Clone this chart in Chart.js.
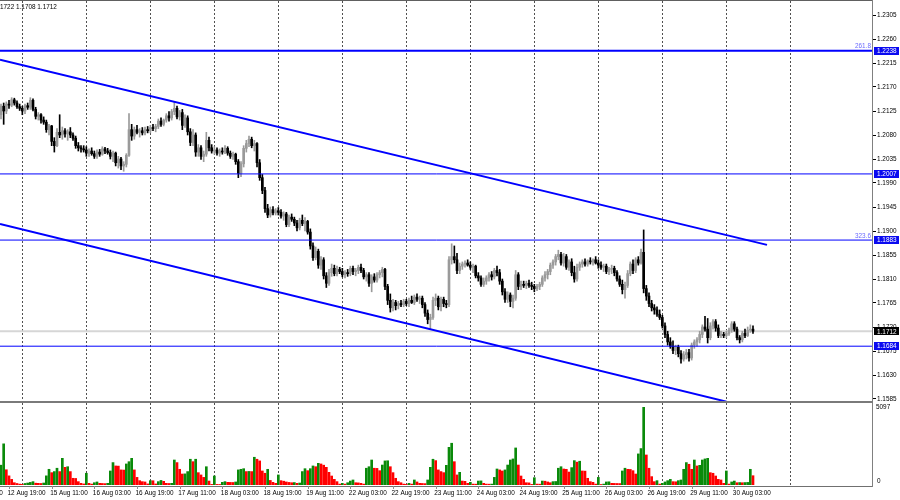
<!DOCTYPE html>
<html><head><meta charset="utf-8">
<script src="https://cdn.jsdelivr.net/npm/chart.js@4.4.1/dist/chart.umd.min.js"></script>
<style>
html,body{margin:0;padding:0;background:#fff;overflow:hidden}
#wrap{position:relative;width:900px;height:500px;background:#fff}
#c1{position:absolute;left:0;top:0}
#c2{position:absolute;left:0;top:403px}
</style></head><body>
<div id="wrap"><canvas id="c1" width="900" height="403"></canvas><canvas id="c2" width="900" height="97"></canvas></div>
<script>
// ---- H1 bars, index 0 = 12 Aug 16:00, last = 30 Aug 10:00 ----
const open = [
 1.2118,1.2134,1.2125,1.2138,1.2136,1.2146,1.2140,1.2133,
 1.2130,1.2125,1.2135,1.2132,1.2145,1.2128,1.2115,1.2118,1.2108,1.2104,1.2090,1.2097,
 1.2068,1.2060,1.2085,1.2080,1.2088,1.2082,1.2086,1.2080,1.2074,1.2060,1.2056,1.2054,
 1.2052,1.2046,1.2050,1.2045,1.2040,1.2048,1.2044,1.2054,1.2050,1.2047,1.2040,1.2046,
 1.2028,1.2035,1.2022,1.2025,1.2042,1.2090,1.2078,1.2090,1.2085,1.2088,1.2084,1.2090,
 1.2088,1.2094,1.2092,1.2096,1.2106,1.2100,1.2108,1.2116,1.2112,1.2124,1.2130,1.2114,
 1.2122,1.2098,1.2112,1.2086,1.2066,1.2080,1.2048,1.2056,1.2040,1.2044,1.2070,1.2056,
 1.2050,1.2052,1.2046,1.2050,1.2048,1.2055,1.2046,1.2040,1.2044,1.2030,1.2008,1.2026,
 1.2055,1.2064,1.2072,1.2060,1.2064,1.2028,1.2000,1.1976,1.1942,1.1930,1.1940,1.1934,
 1.1938,1.1935,1.1928,1.1932,1.1912,1.1926,1.1922,1.1915,1.1906,1.1920,1.1914,1.1918,
 1.1898,1.1872,1.1850,1.1862,1.1836,1.1846,1.1816,1.1802,1.1822,1.1830,1.1820,1.1828,
 1.1824,1.1818,1.1822,1.1820,1.1830,1.1824,1.1826,1.1832,1.1826,1.1814,1.1818,1.1802,
 1.1814,1.1808,1.1818,1.1822,1.1828,1.1796,1.1770,1.1756,1.1766,1.1760,1.1764,1.1762,
 1.1768,1.1764,1.1770,1.1766,1.1776,1.1772,1.1774,1.1762,1.1746,1.1734,1.1738,1.1770,
 1.1774,1.1758,1.1772,1.1764,1.1762,1.1846,1.1852,1.1846,1.1826,1.1834,1.1838,1.1840,
 1.1836,1.1832,1.1834,1.1816,1.1812,1.1800,1.1806,1.1812,1.1818,1.1814,1.1826,1.1822,
 1.1806,1.1786,1.1772,1.1780,1.1768,1.1774,1.1818,1.1796,1.1800,1.1798,1.1802,1.1798,
 1.1796,1.1792,1.1796,1.1800,1.1812,1.1818,1.1824,1.1836,1.1842,1.1852,1.1856,1.1840,
 1.1852,1.1832,1.1842,1.1822,1.1810,1.1832,1.1838,1.1842,1.1838,1.1844,1.1842,1.1846,
 1.1840,1.1836,1.1832,1.1834,1.1824,1.1828,1.1830,1.1822,1.1810,1.1800,1.1790,1.1798,
 1.1820,1.1838,1.1826,1.1846,1.1840,1.1860,1.1792,1.1778,1.1764,1.1756,1.1752,1.1744,
 1.1738,1.1722,1.1706,1.1692,1.1684,1.1676,1.1682,1.1670,1.1660,1.1668,1.1672,1.1662,
 1.1686,1.1692,1.1696,1.1706,1.1720,1.1716,1.1700,1.1722,1.1730,1.1718,1.1704,1.1706,
 1.1704,1.1708,1.1714,1.1726,1.1716,1.1700,1.1696,1.1708,1.1704,1.1714,1.1716
];
const high = [
 1.2138,1.2140,1.2142,1.2145,1.2150,1.2149,1.2144,1.2138,
 1.2134,1.2138,1.2140,1.2150,1.2148,1.2132,1.2122,1.2120,1.2114,1.2108,1.2100,1.2098,
 1.2075,1.2092,1.2118,1.2095,1.2092,1.2090,1.2094,1.2084,1.2078,1.2066,1.2060,1.2060,
 1.2058,1.2054,1.2056,1.2050,1.2052,1.2053,1.2058,1.2057,1.2055,1.2052,1.2050,1.2048,
 1.2040,1.2038,1.2030,1.2045,1.2120,1.2100,1.2095,1.2098,1.2092,1.2094,1.2095,1.2096,
 1.2098,1.2100,1.2100,1.2110,1.2112,1.2110,1.2120,1.2124,1.2128,1.2142,1.2134,1.2126,
 1.2128,1.2118,1.2116,1.2092,1.2090,1.2084,1.2062,1.2060,1.2050,1.2085,1.2076,1.2062,
 1.2058,1.2056,1.2054,1.2056,1.2060,1.2058,1.2050,1.2048,1.2046,1.2034,1.2030,1.2060,
 1.2070,1.2078,1.2076,1.2070,1.2066,1.2034,1.2006,1.1982,1.1950,1.1945,1.1946,1.1942,
 1.1944,1.1940,1.1936,1.1935,1.1930,1.1932,1.1926,1.1920,1.1924,1.1930,1.1925,1.1920,
 1.1904,1.1878,1.1870,1.1866,1.1852,1.1850,1.1822,1.1828,1.1838,1.1836,1.1834,1.1832,
 1.1830,1.1826,1.1828,1.1834,1.1834,1.1830,1.1836,1.1838,1.1830,1.1822,1.1822,1.1818,
 1.1820,1.1822,1.1826,1.1832,1.1830,1.1800,1.1782,1.1772,1.1770,1.1768,1.1770,1.1772,
 1.1772,1.1774,1.1778,1.1780,1.1782,1.1778,1.1778,1.1766,1.1752,1.1744,1.1776,1.1782,
 1.1778,1.1776,1.1776,1.1770,1.1852,1.1876,1.1872,1.1858,1.1840,1.1842,1.1844,1.1846,
 1.1842,1.1838,1.1836,1.1822,1.1816,1.1812,1.1816,1.1822,1.1824,1.1830,1.1834,1.1828,
 1.1810,1.1792,1.1786,1.1784,1.1780,1.1826,1.1822,1.1806,1.1806,1.1806,1.1808,1.1804,
 1.1800,1.1800,1.1804,1.1816,1.1824,1.1828,1.1840,1.1846,1.1856,1.1864,1.1860,1.1858,
 1.1856,1.1846,1.1848,1.1834,1.1838,1.1842,1.1846,1.1848,1.1846,1.1850,1.1848,1.1852,
 1.1846,1.1842,1.1838,1.1838,1.1832,1.1836,1.1834,1.1826,1.1816,1.1808,1.1804,1.1826,
 1.1842,1.1846,1.1850,1.1852,1.1866,1.1902,1.1798,1.1784,1.1770,1.1762,1.1758,1.1752,
 1.1742,1.1728,1.1712,1.1700,1.1694,1.1686,1.1686,1.1676,1.1674,1.1678,1.1678,1.1690,
 1.1696,1.1700,1.1712,1.1724,1.1740,1.1736,1.1728,1.1734,1.1734,1.1724,1.1712,1.1710,
 1.1712,1.1718,1.1730,1.1730,1.1720,1.1704,1.1712,1.1716,1.1720,1.1724,1.1722
];
const low = [
 1.2110,1.2100,1.2120,1.2130,1.2133,1.2136,1.2130,1.2126,
 1.2118,1.2120,1.2128,1.2128,1.2125,1.2110,1.2108,1.2102,1.2100,1.2085,1.2080,1.2060,
 1.2048,1.2058,1.2075,1.2072,1.2076,1.2070,1.2075,1.2070,1.2055,1.2050,1.2048,1.2048,
 1.2040,1.2040,1.2042,1.2036,1.2036,1.2040,1.2042,1.2045,1.2044,1.2035,1.2030,1.2022,
 1.2018,1.2015,1.2012,1.2020,1.2040,1.2070,1.2072,1.2082,1.2076,1.2080,1.2080,1.2084,
 1.2084,1.2088,1.2086,1.2092,1.2096,1.2097,1.2104,1.2106,1.2108,1.2118,1.2110,1.2108,
 1.2090,1.2094,1.2080,1.2060,1.2060,1.2040,1.2040,1.2034,1.2030,1.2040,1.2050,1.2046,
 1.2044,1.2042,1.2040,1.2044,1.2045,1.2042,1.2036,1.2034,1.2025,1.2000,1.2002,1.2020,
 1.2048,1.2058,1.2056,1.2050,1.2020,1.1995,1.1970,1.1935,1.1925,1.1926,1.1930,1.1930,
 1.1930,1.1924,1.1920,1.1908,1.1908,1.1918,1.1910,1.1900,1.1902,1.1910,1.1900,1.1894,
 1.1866,1.1845,1.1846,1.1830,1.1828,1.1810,1.1794,1.1798,1.1815,1.1816,1.1816,1.1820,
 1.1814,1.1812,1.1815,1.1816,1.1818,1.1816,1.1820,1.1822,1.1810,1.1806,1.1796,1.1786,
 1.1804,1.1804,1.1812,1.1814,1.1790,1.1762,1.1748,1.1750,1.1752,1.1754,1.1758,1.1758,
 1.1760,1.1758,1.1764,1.1762,1.1768,1.1764,1.1756,1.1740,1.1726,1.1716,1.1734,1.1760,
 1.1752,1.1750,1.1758,1.1756,1.1758,1.1838,1.1840,1.1820,1.1820,1.1828,1.1832,1.1834,
 1.1828,1.1822,1.1812,1.1806,1.1796,1.1796,1.1800,1.1806,1.1808,1.1810,1.1816,1.1800,
 1.1780,1.1766,1.1766,1.1758,1.1756,1.1770,1.1790,1.1790,1.1794,1.1792,1.1794,1.1790,
 1.1786,1.1788,1.1790,1.1796,1.1806,1.1810,1.1818,1.1830,1.1836,1.1846,1.1836,1.1834,
 1.1828,1.1826,1.1816,1.1804,1.1806,1.1826,1.1832,1.1834,1.1834,1.1838,1.1836,1.1838,
 1.1830,1.1828,1.1824,1.1820,1.1818,1.1820,1.1816,1.1806,1.1796,1.1782,1.1774,1.1794,
 1.1816,1.1820,1.1822,1.1836,1.1838,1.1784,1.1770,1.1758,1.1750,1.1744,1.1740,1.1734,
 1.1718,1.1700,1.1686,1.1680,1.1670,1.1668,1.1664,1.1652,1.1656,1.1660,1.1656,1.1658,
 1.1680,1.1684,1.1690,1.1700,1.1712,1.1690,1.1696,1.1716,1.1712,1.1700,1.1700,1.1700,
 1.1700,1.1704,1.1710,1.1712,1.1696,1.1690,1.1692,1.1700,1.1702,1.1710,1.1708
];
const close = [
 1.2134,1.2125,1.2138,1.2136,1.2146,1.2140,1.2133,1.2130,
 1.2125,1.2135,1.2132,1.2145,1.2128,1.2115,1.2118,1.2108,1.2104,1.2090,1.2097,1.2068,
 1.2060,1.2085,1.2080,1.2088,1.2082,1.2086,1.2080,1.2074,1.2060,1.2056,1.2054,1.2052,
 1.2046,1.2050,1.2045,1.2040,1.2048,1.2044,1.2054,1.2050,1.2047,1.2040,1.2046,1.2028,
 1.2035,1.2022,1.2025,1.2042,1.2090,1.2078,1.2090,1.2085,1.2088,1.2084,1.2090,1.2088,
 1.2094,1.2092,1.2096,1.2106,1.2100,1.2108,1.2116,1.2112,1.2124,1.2130,1.2114,1.2122,
 1.2098,1.2112,1.2086,1.2066,1.2080,1.2048,1.2056,1.2040,1.2044,1.2070,1.2056,1.2050,
 1.2052,1.2046,1.2050,1.2048,1.2055,1.2046,1.2040,1.2044,1.2030,1.2008,1.2026,1.2055,
 1.2064,1.2072,1.2060,1.2064,1.2028,1.2000,1.1976,1.1942,1.1930,1.1940,1.1934,1.1938,
 1.1935,1.1928,1.1932,1.1912,1.1926,1.1922,1.1915,1.1906,1.1920,1.1914,1.1918,1.1898,
 1.1872,1.1850,1.1862,1.1836,1.1846,1.1816,1.1802,1.1822,1.1830,1.1820,1.1828,1.1824,
 1.1818,1.1822,1.1820,1.1830,1.1824,1.1826,1.1832,1.1826,1.1814,1.1818,1.1802,1.1814,
 1.1808,1.1818,1.1822,1.1828,1.1796,1.1770,1.1756,1.1766,1.1760,1.1764,1.1762,1.1768,
 1.1764,1.1770,1.1766,1.1776,1.1772,1.1774,1.1762,1.1746,1.1734,1.1738,1.1770,1.1774,
 1.1758,1.1772,1.1764,1.1762,1.1846,1.1852,1.1846,1.1826,1.1834,1.1838,1.1840,1.1836,
 1.1832,1.1834,1.1816,1.1812,1.1800,1.1806,1.1812,1.1818,1.1814,1.1826,1.1822,1.1806,
 1.1786,1.1772,1.1780,1.1768,1.1774,1.1818,1.1796,1.1800,1.1798,1.1802,1.1798,1.1796,
 1.1792,1.1796,1.1800,1.1812,1.1818,1.1824,1.1836,1.1842,1.1852,1.1856,1.1840,1.1852,
 1.1832,1.1842,1.1822,1.1810,1.1832,1.1838,1.1842,1.1838,1.1844,1.1842,1.1846,1.1840,
 1.1836,1.1832,1.1834,1.1824,1.1828,1.1830,1.1822,1.1810,1.1800,1.1790,1.1798,1.1820,
 1.1838,1.1826,1.1846,1.1840,1.1860,1.1792,1.1778,1.1764,1.1756,1.1752,1.1744,1.1738,
 1.1722,1.1706,1.1692,1.1684,1.1676,1.1682,1.1670,1.1660,1.1668,1.1672,1.1662,1.1686,
 1.1692,1.1696,1.1706,1.1720,1.1716,1.1700,1.1722,1.1730,1.1718,1.1704,1.1706,1.1704,
 1.1708,1.1714,1.1726,1.1716,1.1700,1.1696,1.1708,1.1704,1.1714,1.1716,1.1712
];
const volume = [
 1300,2700,1000,600,370,150,100,60,
 40,100,130,170,220,120,110,100,130,600,1030,810,880,1100,880,1750,1160,1200,880,440,430,220,110,70,
 770,110,60,150,200,110,100,90,110,920,1470,1250,1240,990,980,1380,1530,1750,990,500,285,220,200,70,
 285,280,70,220,300,240,110,100,110,1640,1470,1030,720,730,880,1690,1530,1690,810,660,500,1200,260,40,
 590,40,35,175,220,175,170,165,200,990,1030,1070,880,890,880,1820,1690,1580,920,770,1030,300,175,110,
 660,285,250,200,170,150,160,110,130,880,1070,940,1070,1250,1200,1420,1380,1300,1160,830,590,370,220,60,
 110,60,150,260,330,150,140,110,60,1100,1200,1640,1100,1090,940,1310,1580,1590,1200,810,440,220,150,60,
 40,110,60,330,200,110,100,90,330,1160,1690,1600,990,880,810,1290,2470,2740,1530,660,830,260,240,110,
 175,60,55,260,270,110,60,55,60,500,1050,990,920,990,1310,1640,1710,2430,1310,590,370,150,140,40,
 480,60,55,260,250,200,150,220,230,1100,1200,1050,1030,850,1140,1600,1500,1560,920,910,440,220,175,60,
 500,35,60,200,210,110,105,100,95,920,1100,1030,1020,940,720,2040,2390,5097,1970,1100,550,220,285,60,
 110,200,285,370,220,210,285,330,1030,1470,1360,1030,1640,1250,1290,1640,1710,1750,810,770,590,370,330,110,
 920,60,200,260,150,160,150,160,170,1030,610
];

// axis labels
const priceTicks = [1.2305,1.2260,1.2215,1.2170,1.2125,1.2080,1.2035,1.1990,1.1945,1.1900,1.1855,1.1810,1.1765,1.1720,1.1675,1.1630,1.1585];
const timeTickBars = [-13,3,19,35,51,67,83,99,115,131,147,163,179,195,211,227,243,259,275];
const timeTickLabels = ['12 Aug 03:00','12 Aug 19:00','15 Aug 11:00','16 Aug 03:00','16 Aug 19:00','17 Aug 11:00','18 Aug 03:00','18 Aug 19:00','19 Aug 11:00','22 Aug 03:00','22 Aug 19:00','23 Aug 11:00','24 Aug 03:00','24 Aug 19:00','25 Aug 11:00','26 Aug 03:00','26 Aug 19:00','29 Aug 11:00','30 Aug 03:00'];
const dayStartBars = [8,32,56,80,104,128,152,176,200,224,248,272,296];

// drawn objects
const levelPrices = [1.2238, 1.2007, 1.1883, 1.1684];
const fibLevelPrices = [1.2238, 1.1883];
const fibLevelTexts = ['261.8', '323.6'];
const upperChannelBars = [-0.375, 287.25];
const upperChannelPrices = [1.2221, 1.1874];
const lowerChannelBars = [-0.375, 272.1];
const lowerChannelPrices = [1.1913, 1.1580];
const headerText = '1722 1.1708 1.1712';

// view window
const X_MIN = -0.375, X_MAX = 327;
const PRICE_MIN = 1.158125, PRICE_MAX = 1.233125;
const VOL_MAX = 5379;

Chart.defaults.font.family = '"Liberation Sans", Arial, sans-serif';
const FONT = '6.4px "Liberation Sans", Arial, sans-serif';

const idx = close.map((_, i) => i);
const candleCol = idx.map(i => close[i] >= open[i] ? '#9a9a9a' : '#000000');
const volCol = volume.map((v, i) => (i === 0 || v > volume[i - 1]) ? '#0a8a0a' : '#ff0000');

function hline(p, w) {
  return {type:'line', data:[{x:X_MIN,y:p},{x:X_MAX,y:p}], borderColor:'#0000ff', borderWidth:w,
          pointRadius:0, tension:0, fill:false, order:0};
}
const lineSets = levelPrices.map((p, k) => hline(p, k === 0 ? 2 : 1));
lineSets.push({type:'line', data: upperChannelBars.map((b,k)=>({x:b,y:upperChannelPrices[k]})),
  borderColor:'#0000ff', borderWidth:2, pointRadius:0, tension:0, fill:false, order:0});
lineSets.push({type:'line', data: lowerChannelBars.map((b,k)=>({x:b,y:lowerChannelPrices[k]})),
  borderColor:'#0000ff', borderWidth:2, pointRadius:0, tension:0, fill:false, order:0});

const pricePlugin = {
  id: 'pricePanel',
  beforeDatasetsDraw(chart) {
    const {ctx, chartArea: a, scales: {x, y}} = chart;
    ctx.save();
    ctx.strokeStyle = '#505050'; ctx.lineWidth = 1; ctx.setLineDash([2, 2]);
    dayStartBars.forEach(d => {
      const px = Math.round(x.getPixelForValue(d)) + 0.5;
      if (px > a.left && px < a.right - 1) {
        ctx.beginPath(); ctx.moveTo(px, a.top); ctx.lineTo(px, a.bottom); ctx.stroke();
      }
    });
    ctx.setLineDash([]);
    const by = y.getPixelForValue(close[close.length - 1]);
    ctx.strokeStyle = '#d6d6d6'; ctx.lineWidth = 2;
    ctx.beginPath(); ctx.moveTo(a.left, by); ctx.lineTo(a.right, by); ctx.stroke();
    ctx.restore();
  },
  afterDraw(chart) {
    const {ctx, chartArea: a, scales: {y}} = chart;
    ctx.save();
    // frame
    ctx.fillStyle = '#606060'; ctx.fillRect(0, 0, a.right, 1);
    ctx.fillStyle = '#808080'; ctx.fillRect(a.right - 1, 0, 1, chart.height);
    ctx.fillStyle = '#7a7a7a'; ctx.fillRect(0, a.bottom, a.right, 2);
    ctx.font = FONT; ctx.textBaseline = 'middle';
    // fib texts
    ctx.fillStyle = '#6a6aff'; ctx.textAlign = 'right';
    fibLevelPrices.forEach((p, k) => {
      ctx.fillText(fibLevelTexts[k], a.right - 2, y.getPixelForValue(p) - 4);
    });
    // level boxes
    ctx.textAlign = 'left';
    const box = (p, bg) => {
      const yy = y.getPixelForValue(p);
      ctx.fillStyle = bg; ctx.fillRect(a.right + 1, Math.round(yy) - 4, 25, 8);
      ctx.fillStyle = '#ffffff'; ctx.fillText(p.toFixed(4), a.right + 4, yy + 0.5);
    };
    levelPrices.forEach(p => box(p, '#0a0af0'));
    box(close[close.length - 1], '#000000');
    // header
    ctx.fillStyle = '#000'; ctx.textAlign = 'left';
    ctx.fillText(headerText, 0, 7);
    ctx.restore();
  }
};

new Chart(document.getElementById('c1'), {
  type: 'bar',
  data: {
    datasets: [
      ...lineSets,
      {type:'bar', data: idx.map(i => ({x:i, y:[open[i], close[i]]})), backgroundColor: candleCol,
       grouped:false, barThickness:2, maxBarThickness:2, minBarLength:1, order:1},
      {type:'bar', data: idx.map(i => ({x:i, y:[low[i], high[i]]})), backgroundColor: candleCol,
       grouped:false, barThickness:1, maxBarThickness:1, order:2}
    ]
  },
  options: {
    responsive:false, animation:false, events:[],
    layout:{padding:{top:1, bottom:2, left:0, right:0}},
    plugins:{legend:{display:false}, tooltip:{enabled:false}},
    scales:{
      x:{type:'linear', min:X_MIN, max:X_MAX, offset:false, display:false},
      y:{type:'linear', position:'right', min:PRICE_MIN, max:PRICE_MAX,
         afterBuildTicks: s => { s.ticks = priceTicks.map(v => ({value:v})); },
         afterFit: s => { s.width = 27; s.paddingTop = 0; s.paddingBottom = 0; },
         ticks:{autoSkip:false, padding:1, color:'#000', font:{size:6.4}, callback: v => Number(v).toFixed(4)},
         grid:{display:true, drawOnChartArea:false, drawTicks:true, tickLength:3, color:'#000', lineWidth:1},
         border:{display:false}}
    }
  },
  plugins:[pricePlugin]
});

const volPlugin = {
  id: 'volPanel',
  beforeDatasetsDraw(chart) {
    const {ctx, chartArea: a, scales: {x}} = chart;
    ctx.save();
    ctx.strokeStyle = '#505050'; ctx.lineWidth = 1; ctx.setLineDash([2, 2]);
    dayStartBars.forEach(d => {
      const px = Math.round(x.getPixelForValue(d)) + 0.5;
      if (px > a.left && px < a.right - 1) {
        ctx.beginPath(); ctx.moveTo(px, a.top); ctx.lineTo(px, a.bottom); ctx.stroke();
      }
    });
    ctx.restore();
  },
  afterDraw(chart) {
    const {ctx, chartArea: a, scales: {x, y}} = chart;
    ctx.save();
    ctx.fillStyle = '#707070'; ctx.fillRect(0, a.bottom + 1, a.right, 1);
    ctx.fillStyle = '#808080'; ctx.fillRect(a.right - 1, 0, 1, a.bottom + 2);
    ctx.font = FONT; ctx.textBaseline = 'middle'; ctx.textAlign = 'left';
    timeTickBars.forEach((b, k) => {
      const px = x.getPixelForValue(b);
      ctx.fillStyle = '#909090'; ctx.fillRect(Math.round(px), a.bottom + 1, 1, 3);
      ctx.fillStyle = '#000'; ctx.fillText(timeTickLabels[k], px - 1.5, a.bottom + 8);
    });
    const vmax = Math.max(...volume);
    ctx.fillText(String(vmax), a.right + 3, y.getPixelForValue(vmax));
    ctx.fillText('0', a.right + 4, y.getPixelForValue(0) - 4);
    ctx.restore();
  }
};

new Chart(document.getElementById('c2'), {
  type: 'bar',
  data: {
    datasets: [
      {data: idx.map(i => ({x:i, y:volume[i]})), backgroundColor: volCol,
       grouped:false, barThickness:2, maxBarThickness:2}
    ]
  },
  options: {
    responsive:false, animation:false, events:[],
    layout:{padding:{top:0, bottom:15, left:0, right:27}},
    plugins:{legend:{display:false}, tooltip:{enabled:false}},
    scales:{
      x:{type:'linear', min:X_MIN, max:X_MAX, offset:false, display:false},
      y:{type:'linear', min:0, max:VOL_MAX, display:false}
    }
  },
  plugins:[volPlugin]
});
</script>
</body></html>
